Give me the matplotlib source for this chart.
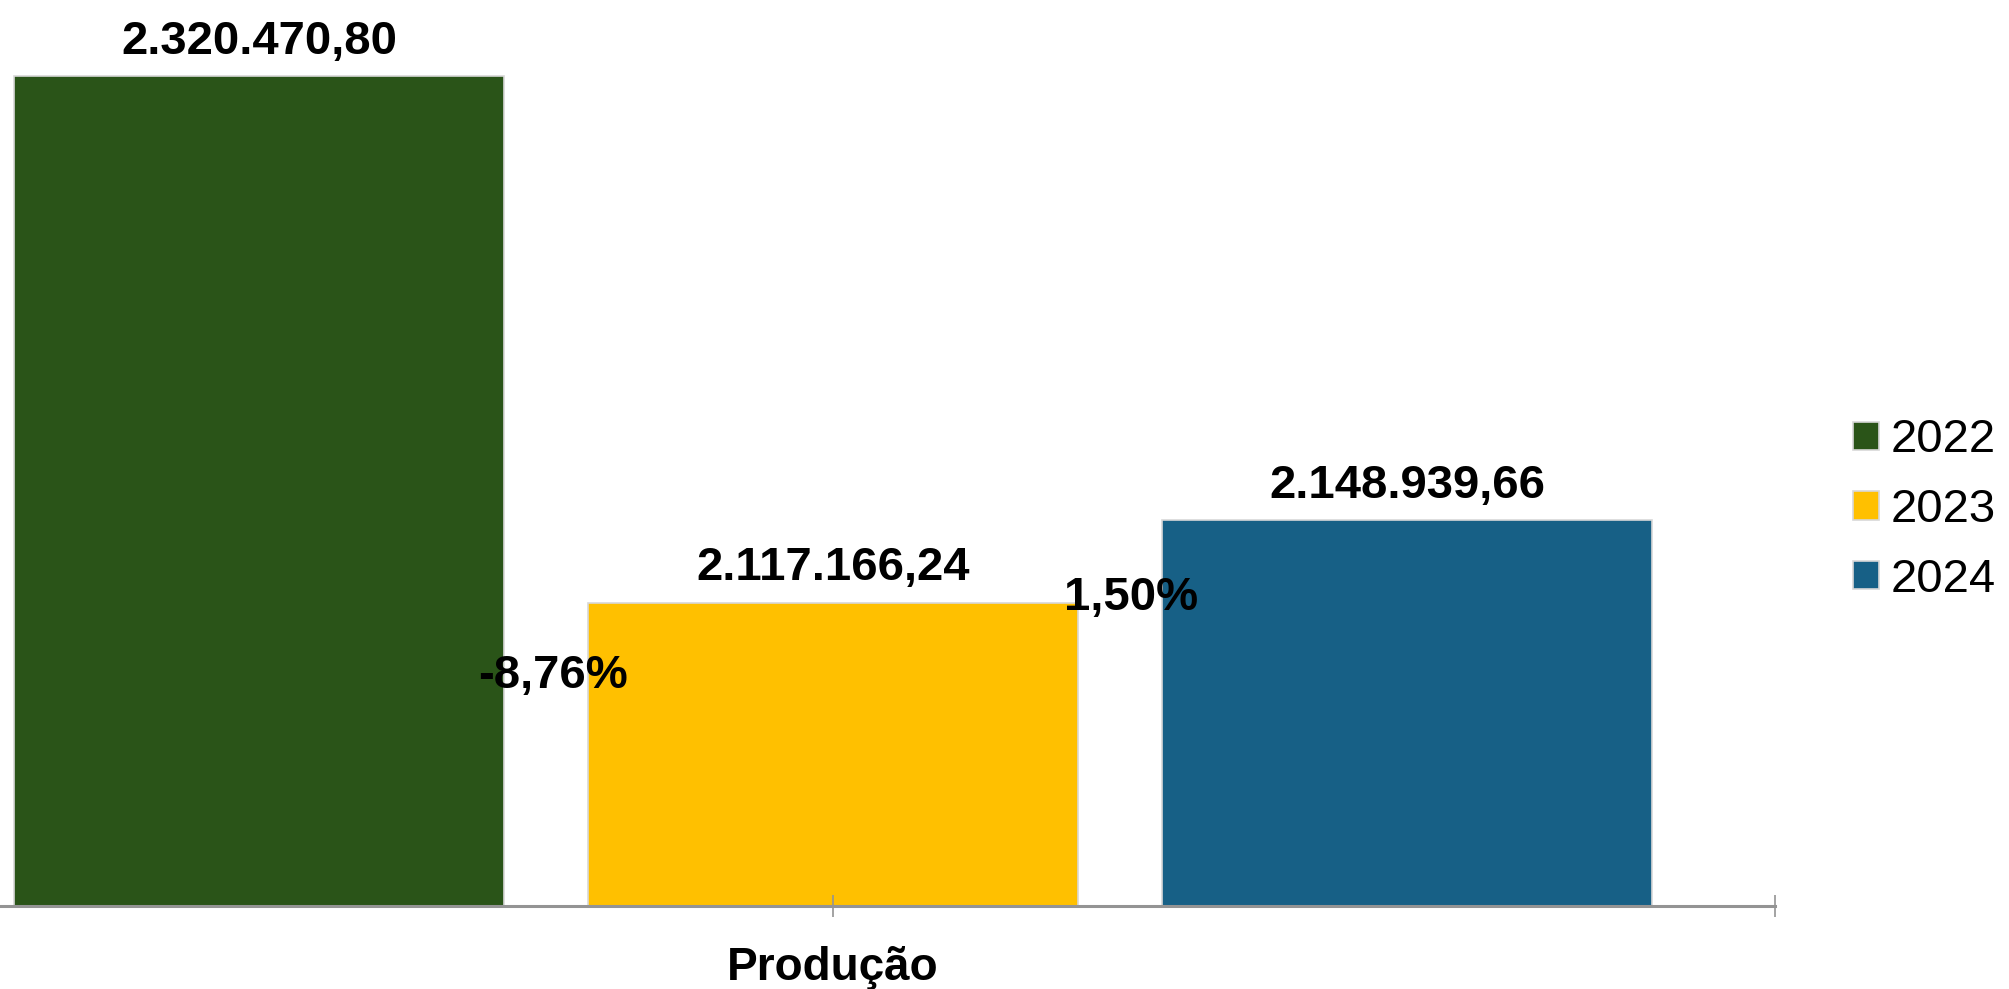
import matplotlib
matplotlib.use('Agg')
import matplotlib.pyplot as plt

# data
years = ['2022', '2023', '2024']
producao = [2320470.80, 2117166.24, 2148939.66]
category = 'Produção'
colors = ['#2a5418', '#ffc000', '#176086']


def fmtBR(v, dec=2):
    """format number the Brazilian way: 1.234.567,89"""
    s = f'{v:,.{dec}f}'
    return s.replace(',', 'X').replace('.', ',').replace('X', '.')


plt.rcParams['font.family'] = ['Liberation Sans', 'DejaVu Sans']

fig = plt.figure(figsize=(20.09, 9.89), dpi=100)
ax = fig.add_axes([0, 83 / 989, 1775 / 2009, 906 / 989])

pos = [-1, 0, 1]
width = 0.854
for i in range(len(years)):
    ax.bar(pos[i], producao[i], width=width, color=colors[i],
           edgecolor='#d8d8d8', linewidth=1.2, label=years[i])
    ax.annotate(fmtBR(producao[i]), (pos[i], producao[i]), xytext=(0, 16),
                textcoords='offset points', ha='center', va='baseline',
                fontsize=34, fontweight='bold')

# year over year change, placed between the bars
pct_y = [2089000, 2118800]
pct_dx = [0.012, 0.02]
for i in range(1, len(years)):
    pct = (producao[i] / producao[i - 1] - 1) * 100
    ax.text((pos[i] + pos[i - 1]) / 2 + pct_dx[i - 1], pct_y[i - 1], fmtBR(pct) + '%',
            ha='center', va='center', fontsize=34, fontweight='bold')

ax.set_ylim(2000000, 2350000)
ax.set_xlim(-1.451, 1.641)
ax.set_yticks([])
for s in ['top', 'left', 'right']:
    ax.spines[s].set_visible(False)
ax.spines['bottom'].set_color('#949494')
ax.spines['bottom'].set_linewidth(2.2)
ax.set_xticks([0, 1.641])
ax.set_xticklabels([category, ''])
ax.tick_params(axis='x', direction='inout', length=16, width=1.2,
               color='#949494', pad=21, labelsize=33)
for t in ax.get_xticklabels():
    t.set_fontweight('bold')

fig.legend(loc='center left', bbox_to_anchor=(1853 / 2009, 1 - 510 / 989),
           bbox_transform=fig.transFigure, frameon=False, fontsize=34,
           handlelength=0.55, handleheight=0.55, handletextpad=0.25,
           labelspacing=0.54, borderpad=0, borderaxespad=0)

fig.savefig('out.png', dpi=100)
